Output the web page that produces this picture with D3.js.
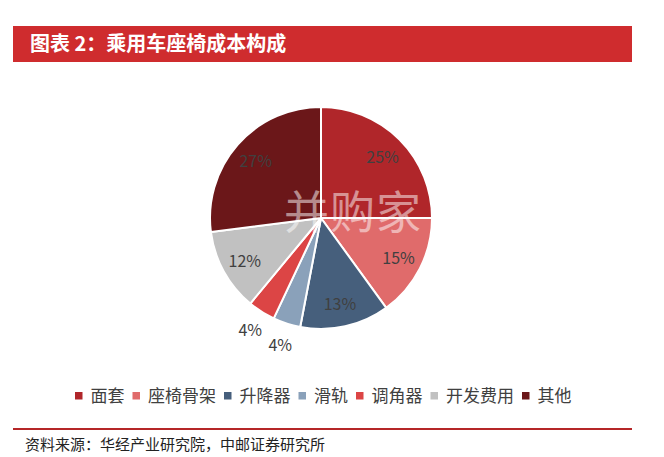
<!DOCTYPE html>
<html><head><meta charset="utf-8">
<script src="https://cdn.jsdelivr.net/npm/d3@7"></script>
<style>body{margin:0;background:#fff}svg{display:block}</style>
</head><body>
<svg id="c" width="664" height="457"></svg>
<script>
const categories = ["面套","座椅骨架","升降器","滑轨","调角器","开发费用","其他"];
const values = [25,15,13,4,4,12,27];
const labels = ["25%","15%","13%","4%","4%","12%","27%"];
const colors = ["#B0262A","#E06B6B","#465F7C","#8AA1BA","#DC4545","#C1C1C1","#6B1719"];
const outsideLabel = [false,false,false,true,true,false,false];
const title = "图表 2：乘用车座椅成本构成";
const source = "资料来源：华经产业研究院，中邮证券研究所";

const FONT = "'Noto Sans CJK SC','Microsoft YaHei',sans-serif";
const svg = d3.select("#c");

// title bar
svg.append("rect").attr("x",13).attr("y",26).attr("width",619).attr("height",36).attr("fill","#CF2C2E");
svg.append("text").attr("x",30).attr("y",51).attr("fill","#fff").attr("font-family",FONT)
  .attr("font-weight","bold").attr("font-size",20).text(title);

// pie
const cx=321, cy=218, R=111;
const pie = d3.pie().sort(null).value(d=>d)(values);
const arc = d3.arc().innerRadius(0).outerRadius(R);
const g = svg.append("g").attr("transform",`translate(${cx},${cy})`);
g.selectAll("path").data(pie).join("path").attr("d",arc)
  .attr("fill",(d,i)=>colors[i]).attr("stroke","#fff").attr("stroke-width",2).attr("stroke-linejoin","round");

// watermark (faint)
svg.append("text").attr("x",284).attr("y",229).attr("font-family",FONT).attr("font-size",45)
  .attr("fill","#fff").attr("fill-opacity",0.5).attr("letter-spacing",1).attr("pointer-events","none").text("并购家");

const inArc = d3.arc().innerRadius(87).outerRadius(87);
const outArc = d3.arc().innerRadius(132).outerRadius(132);
g.selectAll("text.lab").data(pie).join("text").attr("class","lab")
  .attr("transform",(d,i)=>`translate(${(outsideLabel[i]?outArc:inArc).centroid(d)})`)
  .attr("text-anchor","middle").attr("dominant-baseline","central")
  .attr("font-family",FONT).attr("font-size",16).attr("fill","#404040")
  .text((d,i)=>labels[i]);

// legend
const leg = svg.append("g");
let x = 75;
categories.forEach((c,i)=>{
  leg.append("rect").attr("x",x).attr("y",392).attr("width",7.5).attr("height",7.5).attr("fill",colors[i]);
  const t = leg.append("text").attr("x",x+15.5).attr("y",402).attr("font-family",FONT).attr("font-size",17)
    .attr("fill","#404040").text(c);
  x += 15.5 + t.node().getComputedTextLength() + 8;
});

// footer
svg.append("line").attr("x1",13).attr("x2",632).attr("y1",429).attr("y2",429).attr("stroke","#B52628").attr("stroke-width",2);
svg.append("text").attr("x",25).attr("y",450).attr("font-family",FONT).attr("font-size",15).attr("fill","#222").text(source);
</script>
</body></html>
